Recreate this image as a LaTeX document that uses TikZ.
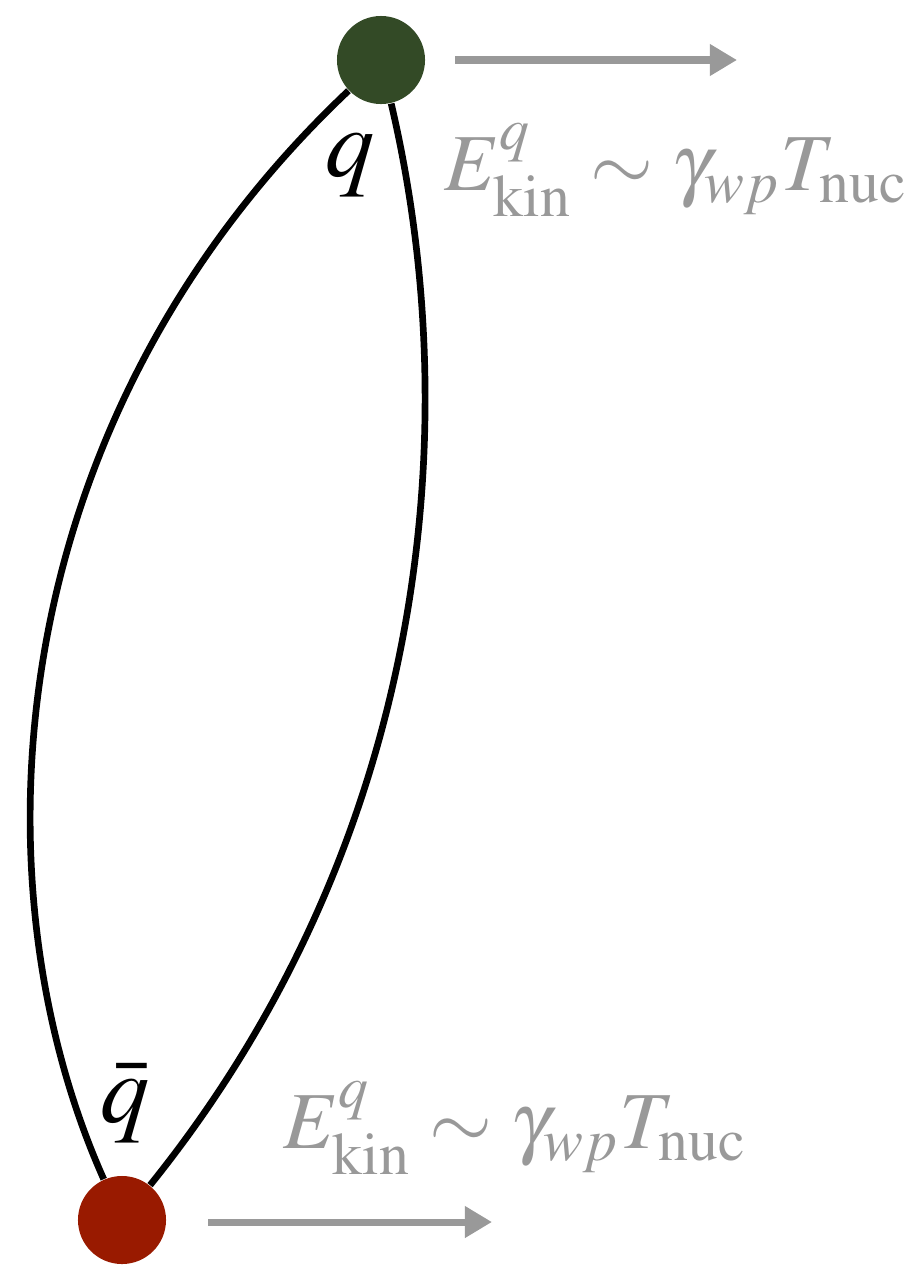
\documentclass[tikz,border=0pt]{standalone}
\usepackage{mathptmx}
\usepackage{xcolor}
\usepackage{tikz}
\usetikzlibrary{arrows.meta,positioning,calc}
\definecolor{quarkgreen}{HTML}{334A26}
\definecolor{antired}{HTML}{991A00}
\definecolor{midgray}{HTML}{999999}
\tikzset{
  arr/.style={-{Triangle[length=0.27cm,width=0.3cm]},line width=2pt,midgray},
  string/.style={line width=1.9pt,black},
  ball/.style={circle,minimum size=0.88cm,inner sep=0pt},
  lbl/.style={font=\fontsize{28}{30}\selectfont,black},
  elbl/.style={font=\fontsize{23}{27}\selectfont,text=midgray},
}
\begin{document}
\begin{tikzpicture}[x=0.01cm,y=-0.01cm]
\useasboundingbox (0,0) rectangle (923,1266);

\node[ball] (q) at (381,60) {};
\node[ball] (qb) at (122,1220) {};

% string between the pair
\draw[string] (q) .. controls (0,420) and (-30,880) .. (qb);
\draw[string] (q) .. controls (470,440) and (420,850) .. (qb);

\node[ball,fill=quarkgreen] at (q) {};
\node[ball,fill=antired] at (qb) {};

\node[lbl,anchor=base] (ql) at (350,176) {$q$};
\node[lbl,anchor=base] (qbl) at (125,1122) {$\bar{q}$};

\coordinate (t0) at (455,60);
\coordinate (t1) at (737,60);
\coordinate (b0) at (208,1222);
\coordinate (b1) at (492,1222);
\draw[arr] (t0)--(t1);
\draw[arr] (b0)--(b1);

\node[elbl] (et) at (676,170) {$E^{q}_{\mathrm{kin}}\sim\gamma_{wp}T_{\mathrm{nuc}}$};
\node[elbl] (eb) at (515,1128) {$E^{q}_{\mathrm{kin}}\sim\gamma_{wp}T_{\mathrm{nuc}}$};
\end{tikzpicture}
\end{document}
